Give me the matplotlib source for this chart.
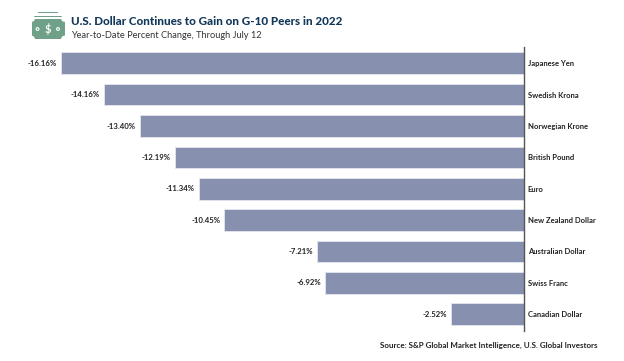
import matplotlib
matplotlib.use("Agg")
import matplotlib.pyplot as plt
from matplotlib.patches import Rectangle, Circle

currencies = ["Japanese Yen", "Swedish Krona", "Norwegian Krone", "British Pound", "Euro",
              "New Zealand Dollar", "Australian Dollar", "Swiss Franc", "Canadian Dollar"]
# bar lengths (the Swedish Krona bar is drawn longer than its label says)
changes = [-16.16, -14.66, -13.40, -12.19, -11.34, -10.45, -7.21, -6.92, -2.52]
value_labels = ["-16.16%", "-14.16%", "-13.40%", "-12.19%", "-11.34%", "-10.45%", "-7.21%", "-6.92%", "-2.52%"]

W, H = 624, 361
plt.rcParams['font.family'] = ['Lato', 'DejaVu Sans']
fig = plt.figure(figsize=(W/100, H/100), dpi=100, facecolor='white')

ax = fig.add_axes([61/W, 1-330.5/H, (523.5-61)/W, (330.5-47.5)/H])
positions = list(range(len(currencies)))
ax.barh(positions, changes, height=0.69, color='#8890B0', edgecolor='#E4E6EE', linewidth=0.6)
ax.set_xlim(-16.16, 0)
ax.set_ylim(len(currencies)-1+0.52, -0.503)
for s in ['top', 'left', 'bottom']:
    ax.spines[s].set_visible(False)
ax.spines['right'].set_color('#555555')
ax.spines['right'].set_linewidth(1.0)
ax.set_xticks([])
ax.yaxis.tick_right()
ax.set_yticks(positions, currencies, fontsize=5.5, color='#222222', fontweight='bold')
ax.tick_params(axis='y', length=0, pad=3)
for p, v, lab in zip(positions, changes, value_labels):
    ax.annotate(lab, (v, p), xytext=(-3, 0), textcoords='offset points', ha='right', va='center',
                fontsize=5.6, color='#222222', fontweight='bold', annotation_clip=False)

fig.text(71/W, 1-21.5/H, "U.S. Dollar Continues to Gain on G-10 Peers in 2022", fontsize=8.4,
         fontweight='black', color='#12395B', va='center', ha='left')
fig.text(71/W, 1-35/H, "Year-to-Date Percent Change, Through July 12", fontsize=6.7,
         color='#333333', va='center', ha='left')
fig.text(597/W, 1-345.5/H, "Source: S&P Global Market Intelligence, U.S. Global Investors", fontsize=5.8,
         fontweight='bold', color='#222222', va='center', ha='right')

# banknote icon, in a pixel-space overlay axes
green = '#6FA088'
ic = fig.add_axes([0, 0, 1, 1], facecolor='none')
ic.set_xlim(0, W); ic.set_ylim(H, 0); ic.axis('off')
ic.add_patch(Rectangle((38, 12), 20, 1.3, fc=green, ec='none'))
ic.add_patch(Rectangle((34, 15.5), 28, 1.3, fc=green, ec='none'))
ic.add_patch(Rectangle((31.5, 18.5), 33, 20.5, fc=green, ec='none'))
for cx, cy in [(31.5, 18.5), (64.5, 18.5), (31.5, 39), (64.5, 39)]:
    ic.add_patch(Circle((cx, cy), 3.4, fc='white', ec='none'))
for cx in (37.5, 58):
    ic.add_patch(Circle((cx, 29), 1.4, fc='none', ec='white', lw=0.8))
ic.text(48, 29, "$", fontsize=8, color='white', ha='center', va='center', fontweight='bold')

fig.savefig("out.png", dpi=100, facecolor='white')
